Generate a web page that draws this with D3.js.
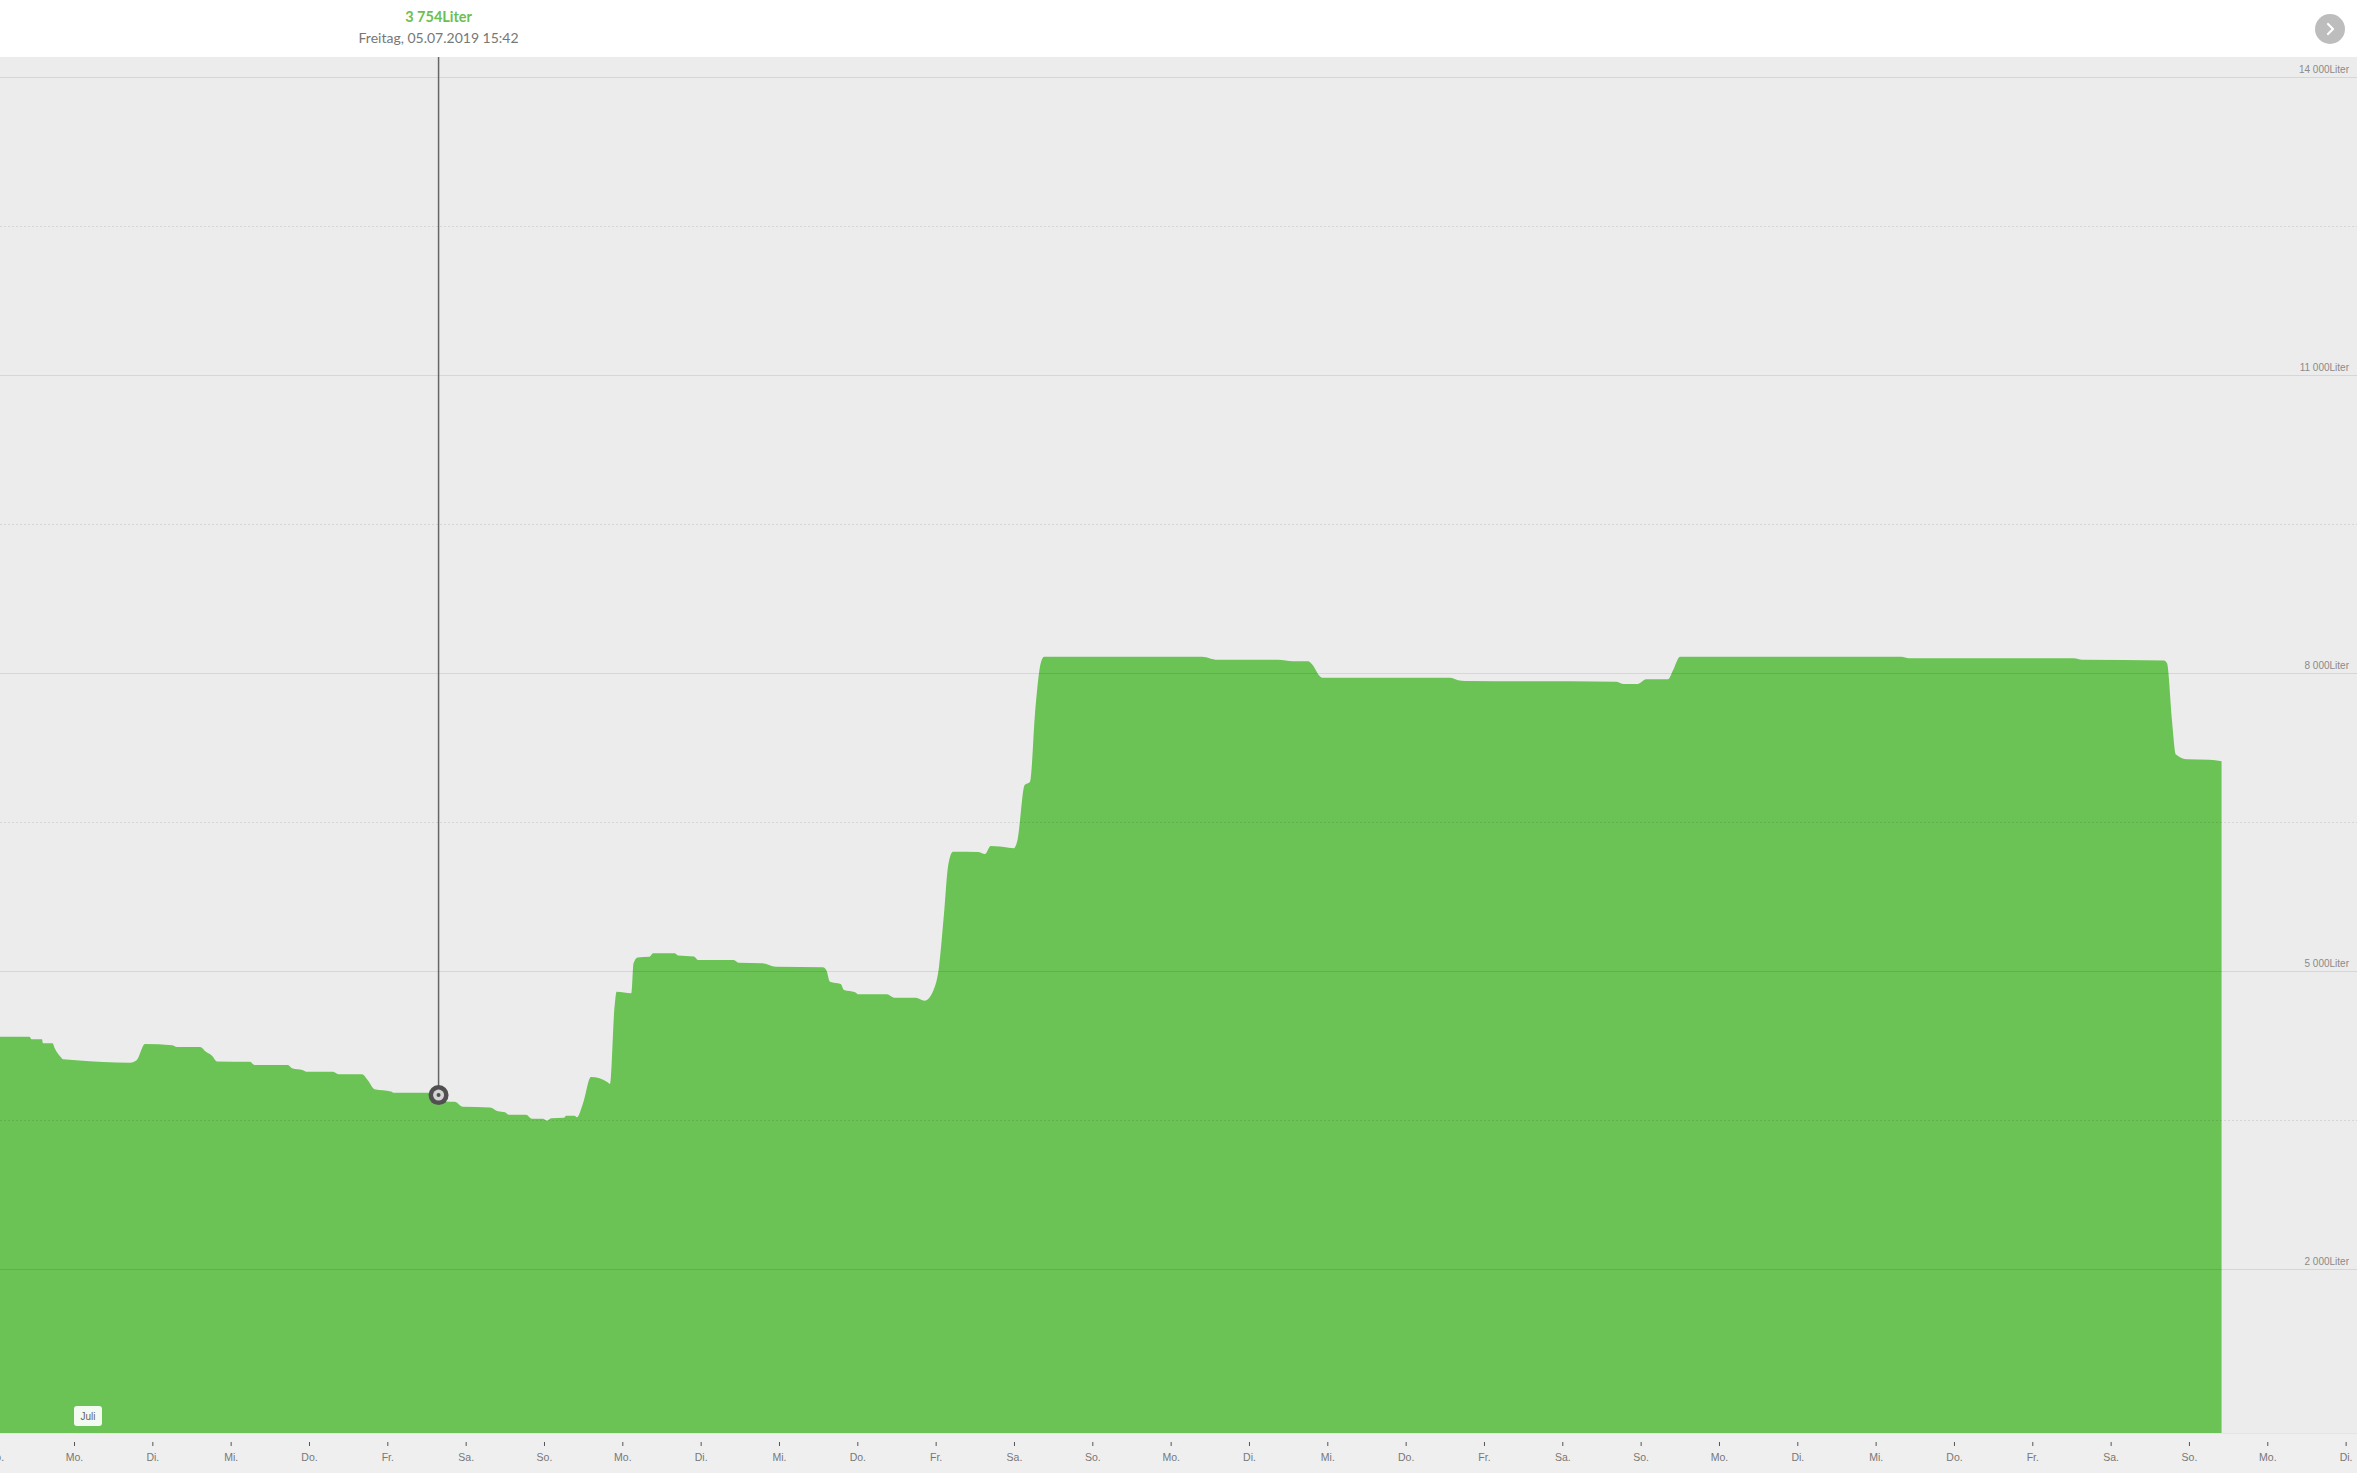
<!DOCTYPE html>
<html>
<head>
<meta charset="utf-8">
<script src="https://cdn.jsdelivr.net/npm/d3@7"></script>
<style>
  body { margin: 0; background: #fff; font-family: Lato, "Open Sans", sans-serif; }
  svg { display: block; }
</style>
</head>
<body>
<div id="container"></div>
<script>
// Wasserstand (Liter)
var times = [
  "2019-06-30 01:20", "2019-06-30 10:22", "2019-06-30 11:00", "2019-06-30 14:12", "2019-06-30 14:30",
  "2019-06-30 17:27", "2019-06-30 18:06", "2019-06-30 20:00", "2019-06-30 20:38", "2019-07-01 00:37",
  "2019-07-01 17:10", "2019-07-01 18:04", "2019-07-01 19:18", "2019-07-01 21:45", "2019-07-02 06:02",
  "2019-07-02 07:34", "2019-07-02 14:37", "2019-07-02 16:26", "2019-07-02 18:17", "2019-07-02 19:49",
  "2019-07-03 05:55", "2019-07-03 07:20", "2019-07-03 17:34", "2019-07-03 18:48", "2019-07-03 22:10",
  "2019-07-03 23:24", "2019-07-04 07:22", "2019-07-04 09:08", "2019-07-04 16:15", "2019-07-04 18:04",
  "2019-07-04 20:06", "2019-07-05 01:08", "2019-07-05 01:53", "2019-07-05 12:52", "2019-07-05 15:42",
  "2019-07-05 17:58", "2019-07-05 20:36", "2019-07-05 23:11", "2019-07-06 07:28", "2019-07-06 09:55",
  "2019-07-06 12:03", "2019-07-06 13:16", "2019-07-06 18:29", "2019-07-06 20:19", "2019-07-06 23:41",
  "2019-07-07 00:56", "2019-07-07 02:10", "2019-07-07 06:09", "2019-07-07 06:45", "2019-07-07 09:21",
  "2019-07-07 10:07", "2019-07-07 11:58", "2019-07-07 14:24", "2019-07-07 19:37", "2019-07-07 20:14",
  "2019-07-07 21:36", "2019-07-07 22:15", "2019-07-08 02:49", "2019-07-08 03:26", "2019-07-08 04:41",
  "2019-07-08 08:21", "2019-07-08 09:24", "2019-07-08 16:02", "2019-07-08 17:04", "2019-07-08 21:58",
  "2019-07-08 23:11", "2019-07-09 10:06", "2019-07-09 11:46", "2019-07-09 18:48", "2019-07-09 23:05",
  "2019-07-10 13:29", "2019-07-10 14:31", "2019-07-10 15:37", "2019-07-10 18:54", "2019-07-10 19:55",
  "2019-07-10 23:18", "2019-07-11 00:24", "2019-07-11 09:06", "2019-07-11 11:15", "2019-07-11 17:54",
  "2019-07-11 20:37", "2019-07-11 23:22", "2019-07-12 01:02", "2019-07-12 02:34", "2019-07-12 03:47",
  "2019-07-12 05:19", "2019-07-12 12:59", "2019-07-12 15:07", "2019-07-12 16:52", "2019-07-12 22:22",
  "2019-07-13 00:00", "2019-07-13 01:05", "2019-07-13 03:16", "2019-07-13 04:55", "2019-07-13 06:27",
  "2019-07-13 08:11", "2019-07-13 09:12", "2019-07-15 09:36", "2019-07-15 12:04", "2019-07-15 14:13",
  "2019-07-16 08:54", "2019-07-16 13:30", "2019-07-16 18:06", "2019-07-16 19:19", "2019-07-16 21:46",
  "2019-07-16 22:41", "2019-07-18 13:36", "2019-07-18 16:03", "2019-07-18 18:12", "2019-07-20 16:28",
  "2019-07-20 18:36", "2019-07-20 23:12", "2019-07-21 01:39", "2019-07-21 08:24", "2019-07-21 09:56",
  "2019-07-21 12:04", "2019-07-24 07:47", "2019-07-24 10:14", "2019-07-26 12:47", "2019-07-26 15:14",
  "2019-07-27 16:22", "2019-07-27 17:17", "2019-07-27 18:49", "2019-07-27 20:02", "2019-07-27 23:24",
  "2019-07-28 06:09", "2019-07-28 09:59"
];
var liters = [
  4342, 4342, 4315, 4315, 4275,
  4275, 4225, 4134, 4114, 4105,
  4080, 4085, 4110, 4268, 4255,
  4238, 4238, 4190, 4150, 4093,
  4090, 4057, 4057, 4025, 4005,
  3989, 3989, 3963, 3963, 3900,
  3812, 3790, 3778, 3778, 3754,
  3690, 3687, 3637, 3630, 3590,
  3580, 3555, 3555, 3515, 3515,
  3496, 3520, 3525, 3545, 3545,
  3530, 3671, 3935, 3880, 3865,
  4637, 4795, 4780, 5080, 5140,
  5147, 5181, 5181, 5160, 5150,
  5114, 5114, 5085, 5080, 5045,
  5040, 5010, 4895, 4872, 4812,
  4790, 4768, 4768, 4734, 4734,
  4704, 4812, 5046, 5584, 6053,
  6204, 6200, 6180, 6261, 6245,
  6240, 6321, 6876, 6909, 7597,
  8101, 8167, 8166, 8150, 8136,
  8136, 8121, 8121, 8090, 7969,
  7954, 7954, 7930, 7922, 7915,
  7893, 7893, 7939, 7939, 8030,
  8166, 8166, 8151, 8151, 8136,
  8130, 8100, 7516, 7183, 7135,
  7130, 7115
];
var yTicks = [2000, 3500, 5000, 6500, 8000, 9500, 11000, 12500, 14000];
var yLabeled = [2000, 5000, 8000, 11000, 14000];
var weekdays = ["So.", "Mo.", "Di.", "Mi.", "Do.", "Fr.", "Sa."];
var monthLabel = "Juli";
var selTime = "2019-07-05 15:42";
var selValue = 3754;
var selTitle = "Freitag, 05.07.2019 15:42";

var width = 2357, height = 1473;
var plotTop = 57, plotBottom = 1433;

var parse = d3.timeParse("%Y-%m-%d %H:%M");
var data = times.map(function (t, i) { return { date: parse(t), value: liters[i] }; });

var de = d3.formatLocale({ decimal: ",", thousands: " ", grouping: [3], currency: ["", " €"] });
var fmt = de.format(",d");

var x = d3.scaleTime()
    .domain([new Date(2019, 6, 1), new Date(2019, 6, 26)])
    .range([74, 2032.3]);
var y = d3.scaleLinear()
    .domain([2000, 8000])
    .range([1269.3, 673.3]);

var svg = d3.select("#container").append("svg")
    .attr("width", width)
    .attr("height", height);

// backgrounds
svg.append("rect").attr("x", 0).attr("y", 0).attr("width", width).attr("height", plotTop).attr("fill", "#fff");
svg.append("rect").attr("x", 0).attr("y", plotTop).attr("width", width).attr("height", plotBottom - plotTop).attr("fill", "#ececec");
svg.append("rect").attr("x", 0).attr("y", plotBottom).attr("width", width).attr("height", height - plotBottom).attr("fill", "#efefef");

// area
var area = d3.area()
    .x(function (d) { return x(d.date); })
    .y0(plotBottom)
    .y1(function (d) { return y(d.value); })
    .curve(d3.curveMonotoneX);

svg.append("path")
    .datum(data)
    .attr("d", area)
    .attr("fill", "#6ac354");

// gridlines over the area
svg.append("g").selectAll("line")
    .data(yTicks)
  .enter().append("line")
    .attr("x1", 0).attr("x2", width)
    .attr("y1", function (d) { return Math.round(y(d)) + 0.5; })
    .attr("y2", function (d) { return Math.round(y(d)) + 0.5; })
    .attr("stroke", "rgba(0,0,0,0.09)")
    .attr("stroke-width", 1)
    .attr("stroke-dasharray", function (d) { return yLabeled.indexOf(d) >= 0 ? null : "2,2"; });

svg.append("line")
    .attr("x1", 0).attr("x2", width)
    .attr("y1", plotBottom + 0.5).attr("y2", plotBottom + 0.5)
    .attr("stroke", "#e4e4e4");

// y labels on the right
svg.append("g").selectAll("text")
    .data(yLabeled)
  .enter().append("text")
    .attr("x", 2349)
    .attr("y", function (d) { return y(d) - 4; })
    .attr("text-anchor", "end")
    .attr("font-size", 10)
    .attr("font-family", "'Liberation Sans', Arial, sans-serif")
    .attr("fill", "#8a8a8a")
    .text(function (d) { return fmt(d) + "Liter"; });

// x axis
var days = d3.timeDay.range(x.invert(-60), x.invert(width + 60));
var xAxis = d3.axisBottom(x)
    .tickValues(days)
    .tickSize(4)
    .tickPadding(4)
    .tickFormat(function (d) { return weekdays[d.getDay()]; });

var gx = svg.append("g")
    .attr("transform", "translate(0," + 1442 + ")")
    .call(xAxis);
gx.select(".domain").remove();
gx.selectAll(".tick line").attr("stroke", "#555");
gx.selectAll(".tick text")
    .attr("fill", "#777")
    .attr("font-size", 10.5)
    .attr("dy", "1em")
    .attr("font-family", "'Liberation Sans', Arial, sans-serif");

// month badge
var mx = x(new Date(2019, 6, 1));
svg.append("rect")
    .attr("x", mx).attr("y", 1406)
    .attr("width", 28).attr("height", 20)
    .attr("rx", 3)
    .attr("fill", "rgba(255,255,255,0.92)");
svg.append("text")
    .attr("x", mx + 14).attr("y", 1420)
    .attr("text-anchor", "middle")
    .attr("font-size", 10)
    .attr("font-family", "'Liberation Sans', Arial, sans-serif")
    .attr("fill", "#666")
    .text(monthLabel);

// selection marker
var sx = x(parse(selTime)), sy = y(selValue);
svg.append("line")
    .attr("x1", sx).attr("x2", sx)
    .attr("y1", plotTop).attr("y2", sy - 9)
    .attr("stroke", "#666")
    .attr("stroke-width", 1.5);
svg.append("circle").attr("cx", sx).attr("cy", sy).attr("r", 10).attr("fill", "#505050");
svg.append("circle").attr("cx", sx).attr("cy", sy).attr("r", 5.5).attr("fill", "#d4d4d4");
svg.append("circle").attr("cx", sx).attr("cy", sy).attr("r", 2).attr("fill", "#505050");

svg.append("text")
    .attr("x", sx).attr("y", 22)
    .attr("text-anchor", "middle")
    .attr("font-size", 14.5)
    .attr("font-weight", "bold")
    .attr("fill", "#6bbf4e")
    .text(fmt(selValue) + "Liter");
svg.append("text")
    .attr("x", sx).attr("y", 43)
    .attr("text-anchor", "middle")
    .attr("font-size", 14)
    .attr("fill", "#777")
    .text(selTitle);

// next button
var btn = svg.append("g").attr("transform", "translate(2330,29)");
btn.append("circle").attr("r", 15).attr("fill", "#bdbdbd");
btn.append("path")
    .attr("d", "M-2,-5 L3,0 L-2,5")
    .attr("fill", "none")
    .attr("stroke", "#fff")
    .attr("stroke-width", 2.2)
    .attr("stroke-linecap", "round")
    .attr("stroke-linejoin", "round");
</script>
</body>
</html>
